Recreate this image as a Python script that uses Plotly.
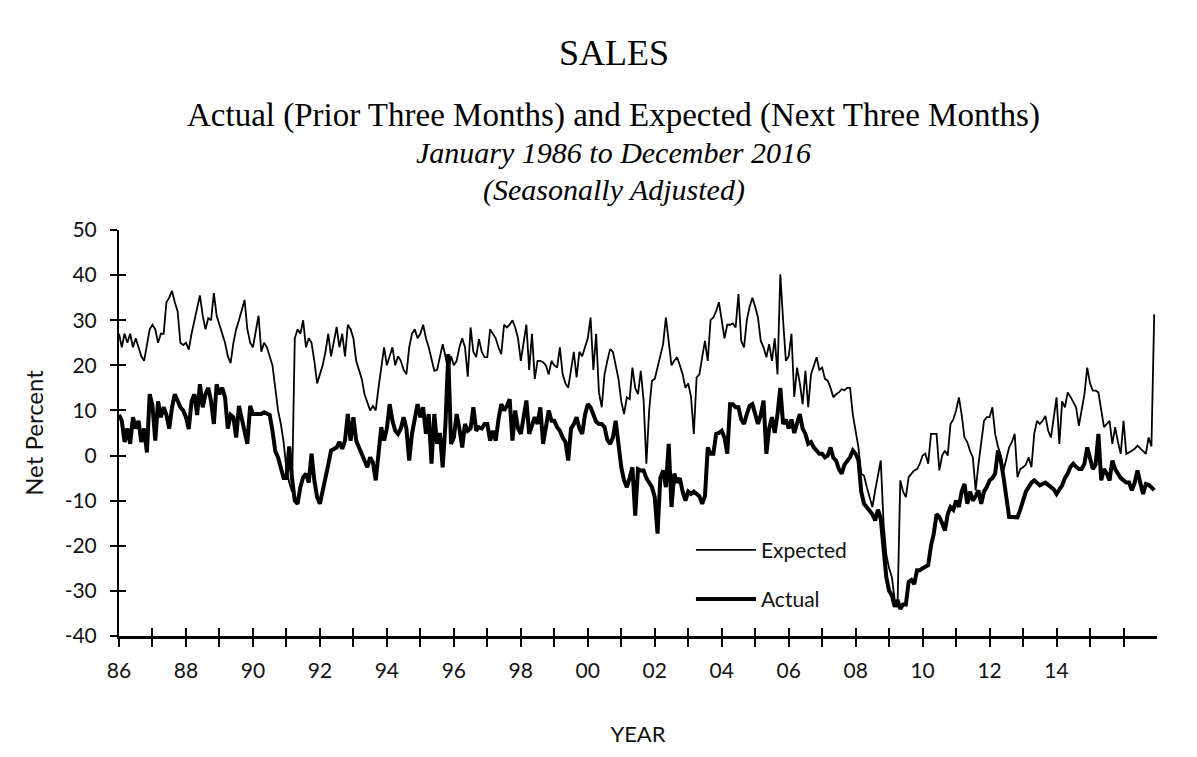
import plotly.graph_objects as go

# Monthly values, January 1986 .. December 2016 (one row per year)
expected = [
    27, 24, 27, 25, 27, 24, 26, 24, 22, 21, 25, 28,            # 1986
    29, 28, 25, 27, 27, 34, 35, 36.5, 34, 32, 25, 24.5,         # 1987
    25, 23.5, 27, 30, 33, 35.5, 31, 28, 30.5, 30, 36, 31,       # 1988
    29, 27, 25, 22, 20.5, 25, 28, 30, 32, 34.5, 28, 25,         # 1989
    24, 28, 31, 23, 25, 24, 22, 20, 15, 10, 7, 3,               # 1990
    -3, -6, -8, 26, 28, 27, 30, 24, 26, 25, 21, 16,             # 1991
    18, 20, 23, 27, 22, 25, 28.5, 24, 27, 22, 29, 28,           # 1992
    26, 21, 19, 17, 13.6, 12, 10, 11, 10, 15, 20, 24,           # 1993
    20, 22, 24, 20, 22, 21, 19, 18, 24, 27, 28, 26,             # 1994
    27, 29, 26, 24, 21, 18.8, 19, 22, 24.7, 22, 18.8, 22,       # 1995
    20, 21, 24, 26, 24, 17.5, 28.4, 23, 21.8, 25.8, 23, 21.8,   # 1996
    21.8, 28, 27, 26, 24, 22.5, 29, 28.4, 29, 30, 28.4, 26,     # 1997
    21, 25, 29, 19, 27, 17, 21, 21, 20.7, 20, 18, 21,           # 1998
    20, 19.5, 24, 18, 16, 15, 19.5, 23, 17.3, 23, 22, 24,       # 1999
    26, 30.6, 19, 27, 14, 10.7, 18, 21, 23.6, 23, 20, 17,       # 2000
    12, 9.2, 12.9, 12.5, 19.5, 15, 13.6, 18.8, 12.3, -1.8, 10, 16.6,  # 2001
    17, 19.5, 21.8, 24.7, 30.6, 24.7, 20, 21, 21.8, 20, 18, 15, # 2002
    16, 13, 4.8, 17.3, 18, 21.8, 25.4, 21, 30, 30.6, 32, 34,    # 2003
    30, 26, 29, 29, 29.3, 28.4, 35.8, 25.4, 24, 30, 33, 35,     # 2004
    33, 30.6, 25.4, 24, 21.8, 24.7, 21, 26, 18, 40.2, 30, 21,   # 2005
    22, 27, 13, 19.5, 16, 11.4, 18.8, 10.7, 18, 20, 21.8, 19,   # 2006
    19.5, 17, 16.6, 15, 12.9, 13.6, 14, 14.7, 14.5, 15, 15, 9,  # 2007
    5, 1.8, -4, -4.5, -7, -9.2, -11.4, -7.7, -4, -1.1, -15, -22,  # 2008
    -25, -27, -32, -33.6, -5.5, -8, -9.2, -4.8, -4, -3.3, -3, -1.8,  # 2009
    0, 0.4, -1.8, 4.8, 4.8, 4.8, -3.3, 0, 1.1, 0, 7, 8,         # 2010
    10, 12.9, 9, 4, 3, 1, -0.4, -7.7, -2, 3, 7.7, 8.5,          # 2011
    8.5, 10.7, 4.8, 2, 0, -3.3, -1, 1.8, 3, 4.8, -4.8, -3,      # 2012
    -2.6, -2, -0.4, -2.6, 4.8, 7.7, 7, 7.7, 8.8, 5.5, 4, 8,     # 2013
    12.9, 2.6, 12, 10.7, 14, 13, 12, 10.7, 6.6, 10, 13.6, 19.5, # 2014
    16, 14.4, 14.4, 14, 10, 6.3, 7, 7.7, 2.6, 6.3, 3, 0.4,      # 2015
    7.7, 0.4, 0.7, 1.1, 1.5, 2.2, 1.5, 1, 0.4, 4, 2, 31.3,      # 2016
]

actual = [
    9, 7.7, 3, 6, 2.6, 8.5, 6, 7.7, 3, 6, 0.7, 13.6,            # 1986
    11, 3.3, 12, 8.5, 10.7, 9, 6, 10.7, 13.6, 12, 10.7, 10,     # 1987
    8.5, 5.9, 12, 13.6, 9, 15.8, 10.7, 13.6, 15, 12, 7, 15.8,   # 1988
    13.6, 15, 12.9, 6, 9, 8.5, 4, 11, 8.5, 6, 2.6, 11,          # 1989
    9.2, 9.2, 9.2, 9.2, 9.6, 9.2, 9, 5.5, 1, -0.4, -2.6, -5,    # 1990
    -5, 2, -5, -10, -10.7, -7, -4.8, -4, -6, 0.4, -5.5, -9.2,   # 1991
    -10.7, -8, -5, -2, 1.1, 1.5, 1.8, 3, 1.5, 3.3, 9.2, 3.3,    # 1992
    8.5, 3.3, 1.8, 0, -1.1, -2.6, -0.4, -1.5, -5.5, -0.4, 6.3, 3.3,  # 1993
    6, 11.4, 7.7, 5.5, 4.8, 6, 8.5, 6, -1.1, 4.8, 8, 11.4,      # 1994
    8.5, 10.7, 4.8, 9.2, -1.8, 9.2, 2.6, 5, -2.6, 7, 22.5, 2.6, # 1995
    4, 9.2, 6, 1.8, 7, 5.5, 6, 10.7, 5.5, 6.3, 6, 7,            # 1996
    7, 3.3, 5.5, 3.3, 8, 11.4, 10, 11, 12.5, 3.3, 10, 6,        # 1997
    4.8, 8, 12.2, 4.8, 7, 8.5, 7, 10.7, 2.6, 6, 10, 7.7,        # 1998
    7.7, 6.3, 5.5, 4, 3, -1.1, 6, 7, 8.5, 6, 4.8, 9,            # 1999
    11.4, 10.7, 9.2, 7.5, 7, 7, 6.3, 3.5, 2.6, 4, 7.7, 3,       # 2000
    -2.6, -5.5, -7, -5, -2.6, -13.3, -3, -3.3, -3.3, -5, -6, -7,  # 2001
    -9.2, -17.3, -5, -3.3, -7, 2.6, -11.4, -4, -6, -5, -8, -10, # 2002
    -8, -8.5, -8, -8.5, -9, -10.7, -9, 1.8, 0.4, 0.4, 4.8, 5,   # 2003
    5.5, 4, 0.4, 11.4, 11.4, 10.7, 10.7, 8, 7, 9.2, 11, 11.4,   # 2004
    9, 7, 9, 12.2, 0.4, 6, 8.5, 5, 9.2, 15, 7, 8,               # 2005
    6, 8, 5, 7, 9.2, 6, 4.8, 2.6, 3, 1.8, 1, 0.4,               # 2006
    0.4, -0.4, 0, 1.8, -0.5, -1.1, -3, -4, -2, -1, -0.4, 1.1,   # 2007
    0.4, -1, -8, -10.7, -11.5, -12, -13, -14.4, -12, -14, -20, -27,  # 2008
    -30, -31, -33.5, -32, -34, -33, -33, -28, -27.6, -28.5, -25.4, -25.4,  # 2009
    -25, -24.7, -24.3, -20, -17.3, -13, -13.6, -15, -16.6, -13, -11.4, -12,  # 2010
    -10, -11.4, -8, -6.3, -10.7, -8, -10, -9, -7.7, -10.7, -8, -7,  # 2011
    -5.5, -5, -4, 1.1, -1, -4.8, -10, -13.6, -13.6, -13.6, -13.7, -12,  # 2012
    -10, -8, -7, -6, -5.5, -6, -6.6, -6.3, -6, -6.5, -7, -7.5,  # 2013
    -8.5, -7.5, -6.6, -5, -4, -2.5, -1.8, -2.5, -3, -3, -1.8, 1.8,  # 2014
    -1, -3, -2, 4.8, -5.5, -3, -4, -5.5, -1.1, -3, -4, -5,      # 2015
    -5.5, -6, -6, -7.7, -6, -3.3, -6, -8.5, -6.3, -6.5, -7, -7.7,  # 2016
]

start_year = 1986
end_year = 2016
months = [start_year + i / 12 for i in range(len(expected))]

year_ticks = list(range(start_year, end_year + 1))
year_labels = [f"{y % 100:02d}" if (y % 2 == 0 and y <= 2014) else "" for y in year_ticks]

y_ticks = list(range(-40, 51, 10))
y_labels = [str(v) for v in y_ticks]

sans = "Lato, Carlito, Calibri, sans-serif"
tick_font = dict(family=sans, size=21, color="#111")
title_font = dict(family=sans, size=22, color="#111")
legend_font = dict(family=sans, size=21, color="#111")
serif = "Liberation Serif, Times New Roman, serif"

fig = go.Figure()
fig.add_trace(go.Scatter(x=months, y=expected, mode="lines", name="Expected",
                         line=dict(color="black", width=1.8), legendgroup="e"))
fig.add_trace(go.Scatter(x=months, y=actual, mode="lines", name="Actual",
                         line=dict(color="black", width=4), legendgroup="a"))
# empty helper trace so the overlaid tick-only axes (inner tick halves) are drawn
fig.add_trace(go.Scatter(x=[], y=[], xaxis="x2", yaxis="y2", showlegend=False,
                         hoverinfo="skip"))

common_x = dict(range=[start_year, end_year + 1], tickvals=year_ticks, showgrid=False,
                zeroline=False, ticklen=8, tickwidth=1.6, tickcolor="black")
common_y = dict(range=[-40, 50], tickvals=y_ticks, showgrid=False,
                zeroline=False, ticklen=7, tickwidth=1.6, tickcolor="black")

fig.update_layout(
    width=1197, height=757,
    margin=dict(l=119, r=40, t=230, b=121),
    paper_bgcolor="white", plot_bgcolor="white",
    xaxis=dict(**common_x, ticks="outside", ticktext=year_labels,
               showline=True, linecolor="black", linewidth=2.5,
               tickfont=tick_font, ticklabelstandoff=6,
               title=dict(text="YEAR", font=title_font, standoff=46)),
    yaxis=dict(**common_y, ticks="outside", ticktext=y_labels,
               showline=True, linecolor="black", linewidth=2,
               tickfont=tick_font, ticklabelstandoff=9,
               title=dict(text="Net Percent", font=dict(family=sans, size=24, color="#111"),
                          standoff=14)),
    xaxis2=dict(**common_x, ticks="inside", overlaying="x", anchor="y",
                side="bottom", showticklabels=False, showline=False),
    yaxis2=dict(**common_y, ticks="inside", overlaying="y", anchor="x",
                side="left", showticklabels=False, showline=False),
    legend=dict(x=0.551, y=0.262, xanchor="left", yanchor="top",
                bgcolor="rgba(0,0,0,0)", font=legend_font,
                tracegroupgap=19, itemwidth=60),
    showlegend=True,
    annotations=[
        dict(text="SALES", x=0.4766, y=1.436, xref="paper", yref="paper",
             yanchor="middle", showarrow=False,
             font=dict(family=serif, size=36, color="black")),
        dict(text="Actual (Prior Three Months) and Expected (Next Three Months)",
             x=0.4766, y=1.283, xref="paper", yref="paper", yanchor="middle",
             showarrow=False, font=dict(family=serif, size=33, color="black")),
        dict(text="<i>January 1986 to December 2016</i>", x=0.4766, y=1.190,
             xref="paper", yref="paper", yanchor="middle", showarrow=False,
             font=dict(family=serif, size=30, color="black")),
        dict(text="<i>(Seasonally Adjusted)</i>", x=0.4766, y=1.099,
             xref="paper", yref="paper", yanchor="middle", showarrow=False,
             font=dict(family=serif, size=30, color="black")),
    ],
)

fig.write_html("out.html")
